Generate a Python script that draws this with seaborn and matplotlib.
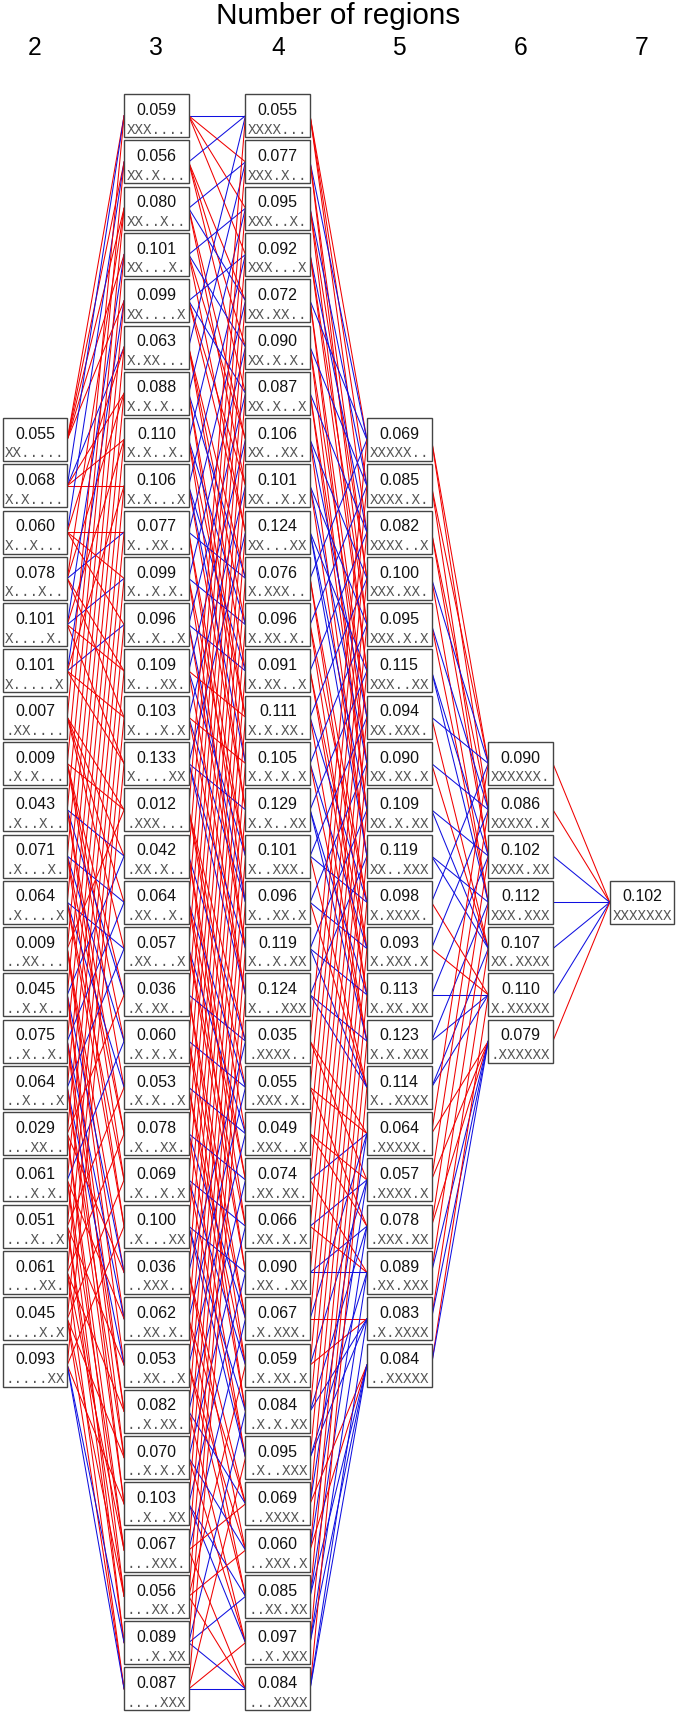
import itertools
import pandas as pd
import seaborn as sns
import matplotlib.pyplot as plt
from matplotlib.patches import Rectangle

# cross-validated error for each subset of regions, one list per subset size
vals2 = [0.055, 0.068, 0.060, 0.078, 0.101, 0.101, 0.007, 0.009, 0.043, 0.071, 0.064,
         0.009, 0.045, 0.075, 0.064, 0.029, 0.061, 0.051, 0.061, 0.045, 0.093]
vals3 = [0.059, 0.056, 0.080, 0.101, 0.099, 0.063, 0.088, 0.110, 0.106, 0.077, 0.099, 0.096,
         0.109, 0.103, 0.133, 0.012, 0.042, 0.064, 0.057, 0.036, 0.060, 0.053, 0.078, 0.069,
         0.100, 0.036, 0.062, 0.053, 0.082, 0.070, 0.103, 0.067, 0.056, 0.089, 0.087]
vals4 = [0.055, 0.077, 0.095, 0.092, 0.072, 0.090, 0.087, 0.106, 0.101, 0.124, 0.076, 0.096,
         0.091, 0.111, 0.105, 0.129, 0.101, 0.096, 0.119, 0.124, 0.035, 0.055, 0.049, 0.074,
         0.066, 0.090, 0.067, 0.059, 0.084, 0.095, 0.069, 0.060, 0.085, 0.097, 0.084]
vals5 = [0.069, 0.085, 0.082, 0.100, 0.095, 0.115, 0.094, 0.090, 0.109, 0.119, 0.098,
         0.093, 0.113, 0.123, 0.114, 0.064, 0.057, 0.078, 0.089, 0.083, 0.084]
vals6 = [0.090, 0.086, 0.102, 0.112, 0.107, 0.110, 0.079]
vals7 = [0.102]
columns = {2: vals2, 3: vals3, 4: vals4, 5: vals5, 6: vals6, 7: vals7}

plt.rcParams['font.family'] = ['Liberation Sans', 'DejaVu Sans']

nodes = []
for k, vals in columns.items():
    offset = (35 - len(vals)) / 2
    for i, combo in enumerate(itertools.combinations(range(7), k)):
        label = ''.join('X' if j in combo else '.' for j in range(7))
        nodes.append({'k': k, 'row': offset + i, 'val': vals[i], 'set': set(combo), 'label': label})

fig, ax = plt.subplots(figsize=(6.77, 17.13), dpi=100)
fig.subplots_adjust(0, 0, 1, 1)

# an edge joins a subset to each subset with one more region, red when the error goes up
for a in nodes:
    for b in nodes:
        if b['k'] == a['k'] + 1 and a['set'] < b['set']:
            edge = pd.DataFrame({'x': [a['k'] + 0.266, b['k'] - 0.266], 'y': [a['row'], b['row']]})
            colour = '#f00000' if b['val'] > a['val'] else '#1010e0'
            sns.lineplot(data=edge, x='x', y='y', color=colour, estimator=None, sort=False,
                         lw=0.75, ax=ax)

for n in nodes:
    ax.add_patch(Rectangle((n['k'] - 0.266, n['row'] - 0.465), 0.532, 0.93, fc='white',
                           ec='#444444', lw=1.0, zorder=3))
    ax.text(n['k'], n['row'] - 0.115, '%.3f' % n['val'], ha='center', va='center',
            fontsize=11.5, color='#111111', zorder=4)
    ax.text(n['k'], n['row'] + 0.3, n['label'], ha='center', va='center', fontsize=10.3,
            family='Liberation Mono', color='#555555', zorder=4)

for k in columns:
    ax.text(k, -1.46, str(k), ha='center', va='center', fontsize=17.7)
ax.text(4.5, -2.16, 'Number of regions', ha='center', va='center', fontsize=21.4)

ax.set_xlim(1.712, 7.288)
ax.set_ylim(34.52, -2.5)
ax.axis('off')

plt.savefig('out.png', dpi=100)
